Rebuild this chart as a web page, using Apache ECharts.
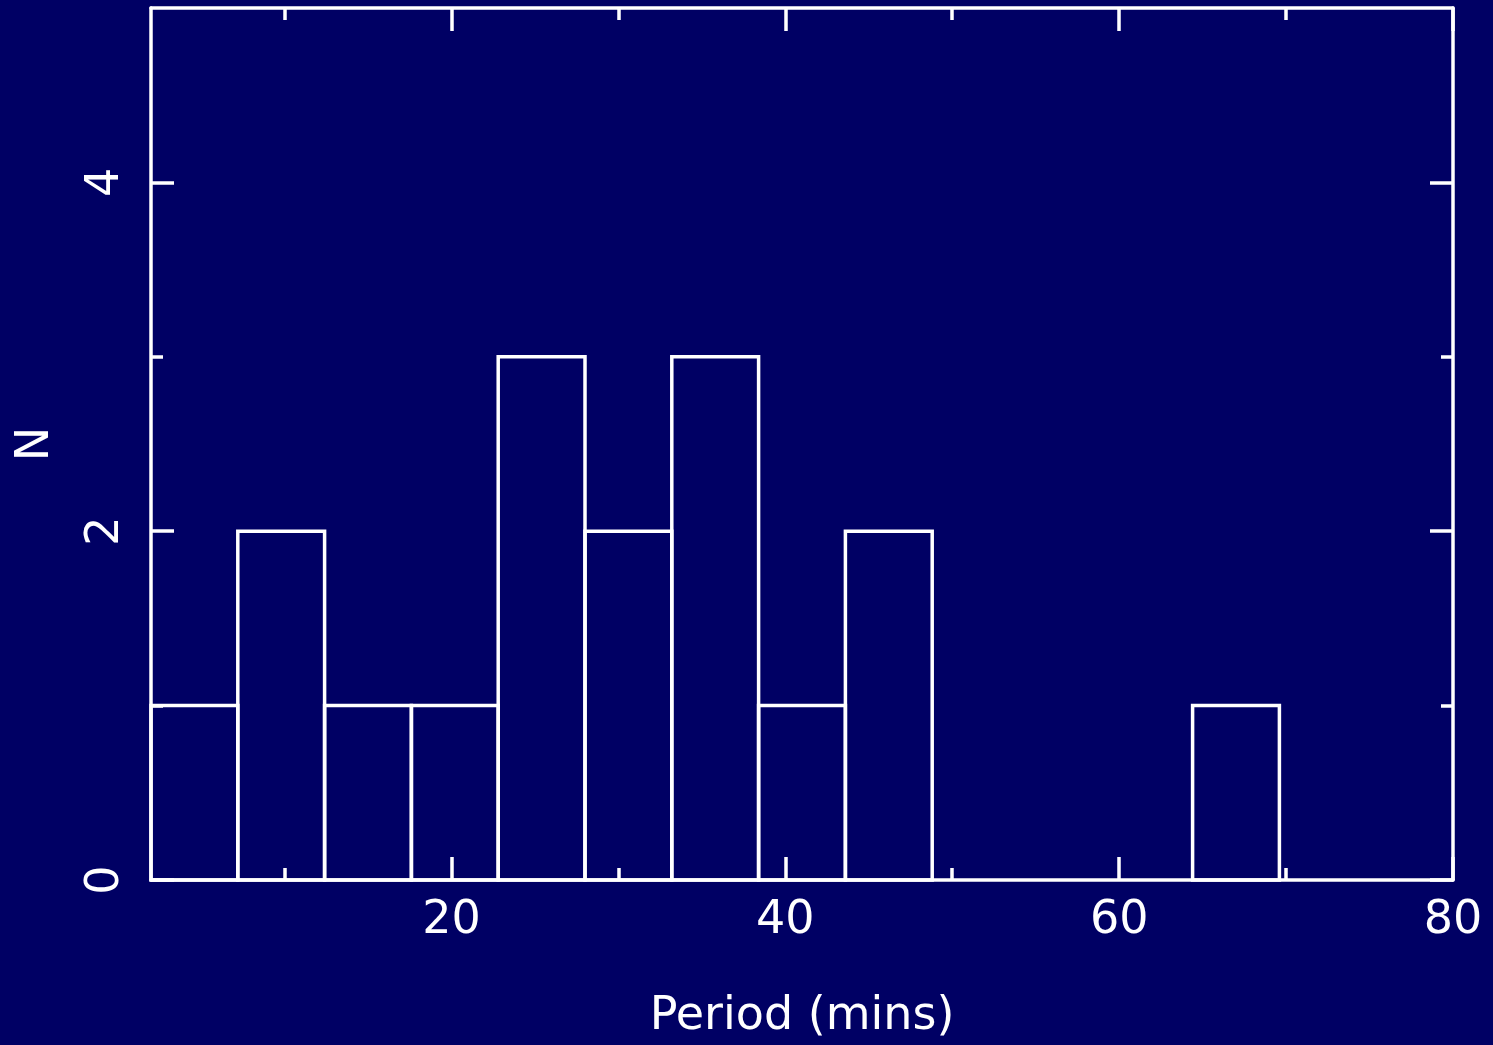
<!DOCTYPE html>
<html>
<head>
<meta charset="utf-8">
<title>Period histogram</title>
<script src="https://cdn.jsdelivr.net/npm/echarts@6/dist/echarts.min.js"></script>
<style>
  html, body { margin: 0; padding: 0; background: #000064; }
  #chart { width: 1493px; height: 1045px; }
</style>
</head>
<body>
<div id="chart"></div>
<script>
// Histogram bins: left edges, right edges and counts (minutes)
const binStarts = [2.0, 7.2, 12.4, 17.6, 22.8, 28.0, 33.2, 38.4, 43.6, 48.8, 54.0, 59.2, 64.4];
const binEnds   = [7.2, 12.4, 17.6, 22.8, 28.0, 33.2, 38.4, 43.6, 48.8, 54.0, 59.2, 64.4, 69.6];
const counts    = [1, 2, 1, 1, 3, 2, 3, 1, 2, 0, 0, 0, 1];

// Axis tick positions
const xMajorTicks = [20, 40, 60, 80];
const xMinorTicks = [10, 30, 50, 70];
const yMajorTicks = [0, 2, 4];
const yMinorTicks = [1, 3];

const FG = '#ffffff';
const FONT = 'DejaVu Sans';
const FS = 46;
const LW = 3.5;

const histData = binStarts.map((s, i) => [s, binEnds[i], counts[i]]);

function xAxisDef(position, ticks, len, withLine, withLabels) {
  return {
    type: 'value', position: position, min: 2, max: 80,
    splitLine: { show: false },
    axisLine: { show: withLine, onZero: false, lineStyle: { color: FG, width: LW } },
    axisTick: { show: true, inside: true, length: len, customValues: ticks,
                lineStyle: { color: FG, width: LW } },
    axisLabel: withLabels
      ? { show: true, customValues: ticks, color: FG, fontFamily: FONT, fontSize: FS, margin: 18 }
      : { show: false }
  };
}

function yAxisDef(position, ticks, len, withLine, withLabels) {
  return {
    type: 'value', position: position, min: 0, max: 5,
    splitLine: { show: false },
    axisLine: { show: withLine, onZero: false, lineStyle: { color: FG, width: LW } },
    axisTick: { show: true, inside: true, length: len, customValues: ticks,
                lineStyle: { color: FG, width: LW } },
    axisLabel: withLabels
      ? { show: true, customValues: ticks, rotate: 90, color: FG, fontFamily: FONT, fontSize: FS, margin: 22 }
      : { show: false }
  };
}

const xAxes = [
  xAxisDef('bottom', xMajorTicks, 23, true, true),
  xAxisDef('bottom', xMinorTicks, 12, false, false),
  xAxisDef('top', xMajorTicks, 23, true, false),
  xAxisDef('top', xMinorTicks, 12, false, false)
];
xAxes[0].name = 'Period (mins)';
xAxes[0].nameLocation = 'middle';
xAxes[0].nameGap = 114;
xAxes[0].nameTextStyle = { color: FG, fontFamily: FONT, fontSize: FS };

const yAxes = [
  yAxisDef('left', yMajorTicks, 23, true, true),
  yAxisDef('left', yMinorTicks, 12, false, false),
  yAxisDef('right', yMajorTicks, 23, true, false),
  yAxisDef('right', yMinorTicks, 12, false, false)
];
yAxes[0].name = 'N';
yAxes[0].nameLocation = 'middle';
yAxes[0].nameGap = 92;
yAxes[0].nameTextStyle = { color: FG, fontFamily: FONT, fontSize: FS };

const chart = echarts.init(document.getElementById('chart'), null, { renderer: 'canvas' });
chart.setOption({
  backgroundColor: '#000064',
  animation: false,
  grid: { left: 151, right: 40, top: 8, bottom: 165, outerBoundsMode: 'none', containLabel: false },
  xAxis: xAxes,
  yAxis: yAxes,
  series: [{
    type: 'custom',
    xAxisIndex: 0,
    yAxisIndex: 0,
    data: histData,
    renderItem: function (params, api) {
      const n = api.value(2);
      if (!n) return null;
      const p0 = api.coord([api.value(0), n]);
      const p1 = api.coord([api.value(1), 0]);
      return {
        type: 'rect',
        shape: { x: p0[0], y: p0[1], width: p1[0] - p0[0], height: p1[1] - p0[1] },
        style: { fill: 'none', stroke: FG, lineWidth: LW }
      };
    }
  }]
});
</script>
</body>
</html>
